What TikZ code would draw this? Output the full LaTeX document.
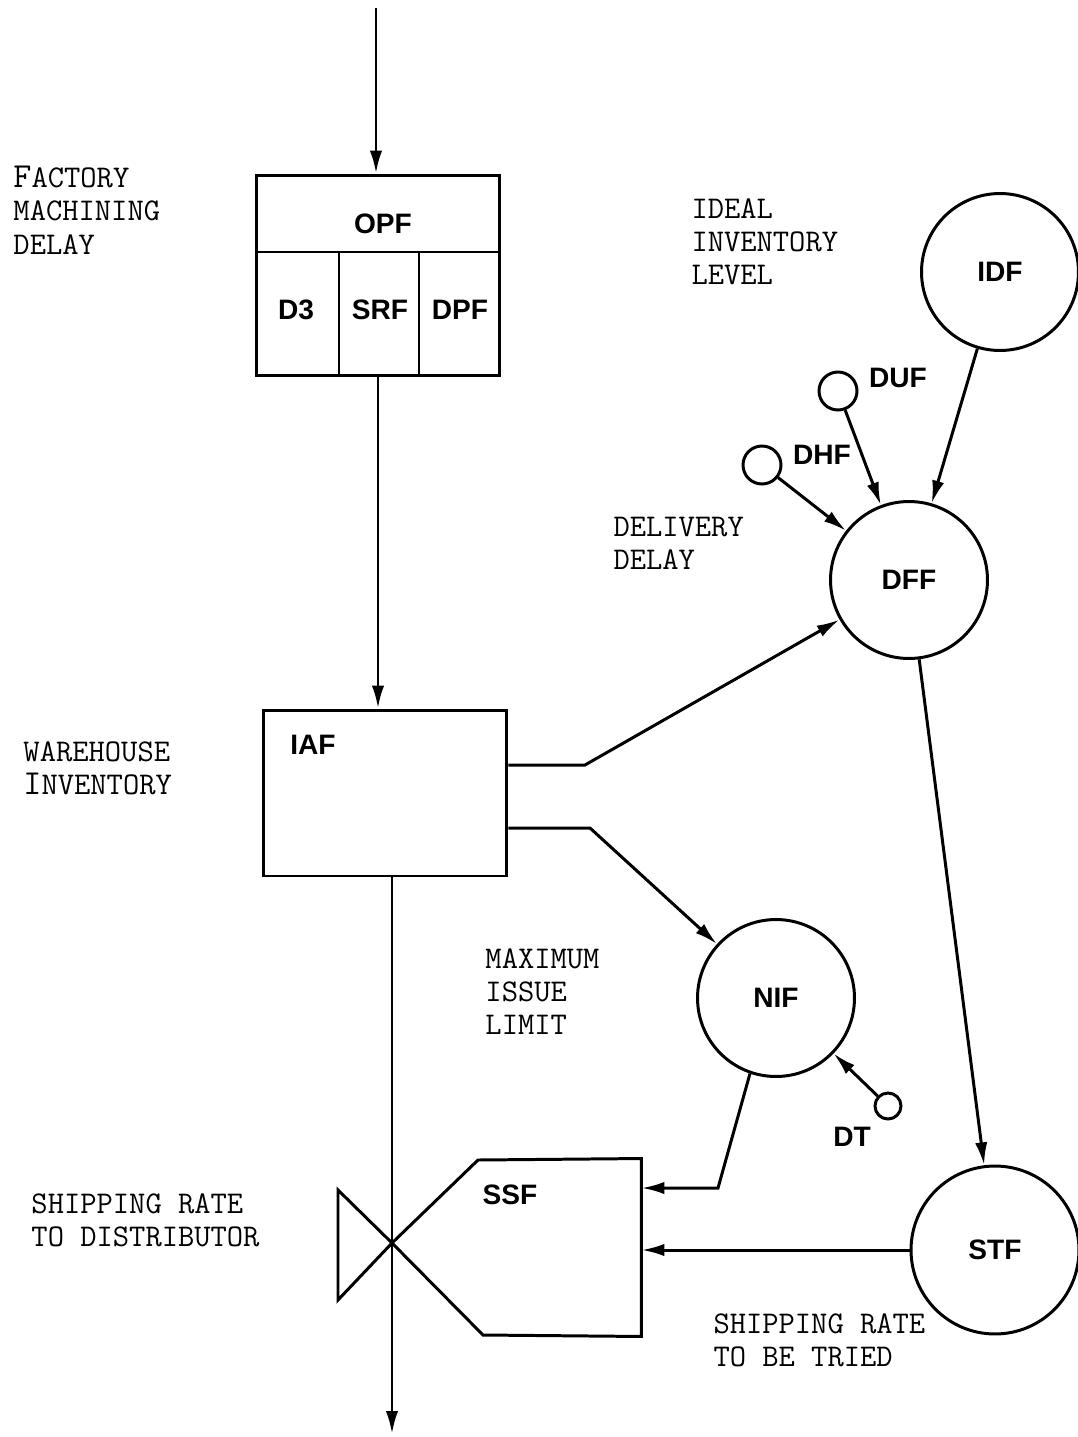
\documentclass[tikz,border=0pt]{standalone}
\usepackage{fontspec}
\setmainfont{Liberation Sans}
\usetikzlibrary{arrows.meta}
\begin{document}
\begin{tikzpicture}[x=0.02cm,y=-0.02cm, line width=1.7pt,
  >={Latex[length=13pt,width=7pt]},
  lab/.style={font=\ttfamily\fontsize{18}{18.8}\selectfont, align=left, anchor=north west, inner sep=0pt},
  nm/.style={font=\fontsize{16}{19}\selectfont\bfseries, inner sep=0pt},
  big/.style={circle, draw, minimum size=3.14cm, inner sep=0pt, font=\fontsize{16}{19}\selectfont\bfseries},
  small/.style={circle, draw, minimum size=0.76cm, inner sep=0pt},
  tiny/.style={circle, draw, minimum size=0.52cm, inner sep=0pt},
  box/.style={draw, rectangle, inner sep=0pt}]
\useasboundingbox (0,0) rectangle (1078,1437);

% OPF box
\node[box, minimum width=4.88cm, minimum height=4.02cm] (opfbox) at (378,275.5) {};
\draw (opfbox.west |- 0,252) -- (opfbox.east |- 0,252);
\draw (339,252) -- (339,376);
\draw (419,252) -- (419,376);
\node[nm] (opf) at (383,224) {OPF};
\node[nm] (d3) at (296,310) {D3};
\node[nm] (srf) at (380,310) {SRF};
\node[nm] (dpf) at (460,310) {DPF};

% IAF box
\node[box, minimum width=4.88cm, minimum height=3.32cm] (iaf) at (385,793) {};
\node[nm] (iaflab) at (313,745) {IAF};

% circles
\node[big] (idf) at (1000,272) {IDF};
\node[big] (dff) at (909,580) {DFF};
\node[big] (nif) at (776,998) {NIF};
\node[big, minimum size=3.36cm] (stf) at (995,1250) {STF};
\node[small] (duf) at (838,391) {};
\node[small] (dhf) at (762,465) {};
\node[tiny] (dt) at (888,1106) {};
\node[nm] (duflab) at (898,378) {DUF};
\node[nm] (dhflab) at (822,455) {DHF};
\node[nm] (dtlab) at (852,1137) {DT};

% SSF valve
\coordinate (valve) at (392,1243);
\node[inner sep=0pt, minimum width=3.24cm, minimum height=3.5cm] (ssf) at (559,1247.5) {};
\draw[line join=miter] (valve) -- (338,1190) -- (338,1300) -- cycle;
\draw[line join=miter] (valve) -- (478,1160) -- (ssf.north east) -- (ssf.south east) -- (483,1335) -- cycle;
\node[nm] (ssflab) at (510,1195) {SSF};

% main flow
\coordinate (top) at (376,8);
\coordinate (bot) at (392,1434);
\draw[->] (top) -- (top |- opfbox.north);
\draw[->] (opfbox.south) -- (opfbox.south |- iaf.north);
\draw[->] (iaf.south -| valve) -- (bot);

% information links
\draw[->] (iaf.east |- 0,765) -- (585,765) -- (dff);
\draw[->] (iaf.east |- 0,828) -- (590,828) -- (nif);
\draw[->] (idf) -- (dff);
\draw[->] (duf) -- (dff);
\draw[->] (dhf) -- (dff);
\draw[->] (dff) -- (stf);
\draw[->] (dt) -- (nif);
\draw[->] (nif.251) -- (718,1188) -- ([yshift=1.19cm]ssf.east);
\draw[->] (stf.west) -- (ssf.east |- stf.west);

% labels
\node[lab] (l1) at (12,165) {{\fontsize{20}{18.8}\selectfont F}ACTORY\\MACHINING\\DELAY};
\node[lab] (l2) at (690,197) {IDEAL\\INVENTORY\\LEVEL};
\node[lab] (l3) at (612,516) {DELIVERY\\DELAY};
\node[lab] (l4) at (22,740) {WAREHOUSE\\{\fontsize{20}{18.8}\selectfont I}NVENTORY};
\node[lab] (l5) at (484,947) {MAXIMUM\\ISSUE\\LIMIT};
\node[lab] (l6) at (30,1192) {SHIPPING RATE\\TO DISTRIBUTOR};
\node[lab] (l7) at (712,1312) {SHIPPING RATE\\TO BE TRIED};
\end{tikzpicture}
\end{document}
